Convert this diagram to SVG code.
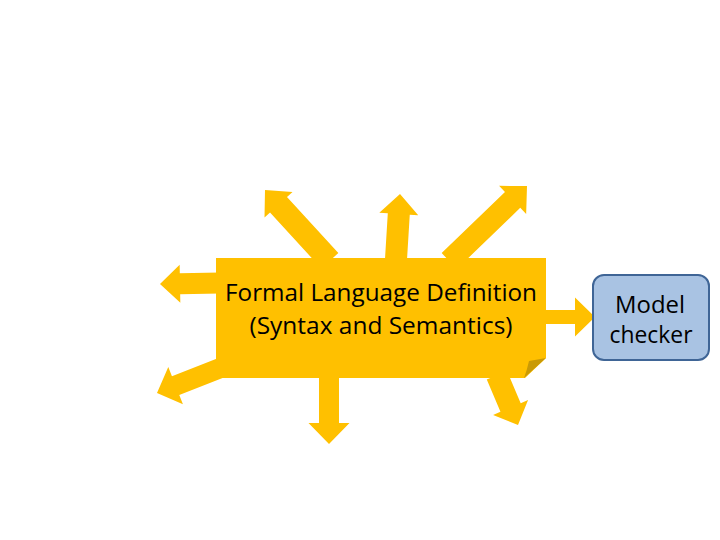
<svg xmlns="http://www.w3.org/2000/svg" width="720" height="540" viewBox="0 0 720 540">
  <style>
    .arrow { fill: #FFC000; stroke: none; }
    .fold { fill: #C99A06; }
    .main { fill: #FFC000; }
    .mc { fill: #A9C3E3; stroke: #3F6596; stroke-width: 2; }
    .lbl { font-family: "Open Sans", "Liberation Sans", sans-serif; font-size: 23px; fill: #000; text-anchor: middle; }
    .mcl { font-size: 23px; }
  </style>
  <rect width="720" height="540" fill="#FFFFFF"/>
  <g id="connectors">
    <!-- left -->
    <polygon class="arrow" transform="translate(160,284) rotate(179)" points="0,0 -20,-19 -20,-10.5 -60,-10.5 -60,10.5 -20,10.5 -20,19"/>
    <!-- lower left -->
    <polygon class="arrow" transform="translate(157,393) rotate(158.5)" points="0,0 -20,-20 -20,-10 -72,-10 -72,10 -20,10 -20,20"/>
    <!-- upper left -->
    <polygon class="arrow" transform="translate(265,190) rotate(227.5)" points="0,0 -20,-19 -20,-11.5 -96,-11.5 -96,11.5 -20,11.5 -20,19"/>
    <!-- top -->
    <polygon class="arrow" transform="translate(400,194) rotate(-86.5)" points="0,0 -20,-19.5 -20,-11 -68,-11 -68,11 -20,11 -20,19.5"/>
    <!-- upper right -->
    <polygon class="arrow" transform="translate(527,186) rotate(-44)" points="0,0 -20,-19.5 -20,-11 -108,-11 -108,11 -20,11 -20,19.5"/>
    <!-- bottom -->
    <polygon class="arrow" transform="translate(329,444) rotate(90)" points="0,0 -21,-20.5 -21,-10 -70,-10 -70,10 -21,10 -21,20.5"/>
    <!-- lower right -->
    <polygon class="arrow" transform="translate(518,425) rotate(67)" points="0,0 -19,-19 -19,-11 -54,-11 -54,11 -19,11 -19,19"/>
    <!-- right, to model checker -->
    <polygon class="arrow" transform="translate(595,317) rotate(0)" points="0,0 -20,-19.5 -20,-7 -52,-7 -52,7 -20,7 -20,19.5"/>
  </g>
  <g id="formal-language">
    <path class="main" d="M216,258 L546,258 L546,358 L525,378 L216,378 Z"/>
    <path class="fold" d="M546,358 L529,361 Q527,370 524,378 Z"/>
    <text class="lbl" x="381" y="301" textLength="312" lengthAdjust="spacingAndGlyphs">Formal Language Definition</text>
    <text class="lbl" x="381" y="334" textLength="263" lengthAdjust="spacingAndGlyphs">(Syntax and Semantics)</text>
  </g>
  <g id="model-checker">
    <rect class="mc" x="593" y="275" width="116" height="85" rx="11" ry="11"/>
    <text class="lbl mcl" x="650" y="313" textLength="70" lengthAdjust="spacingAndGlyphs">Model</text>
    <text class="lbl mcl" x="651" y="343" textLength="83" lengthAdjust="spacingAndGlyphs">checker</text>
  </g>
</svg>
